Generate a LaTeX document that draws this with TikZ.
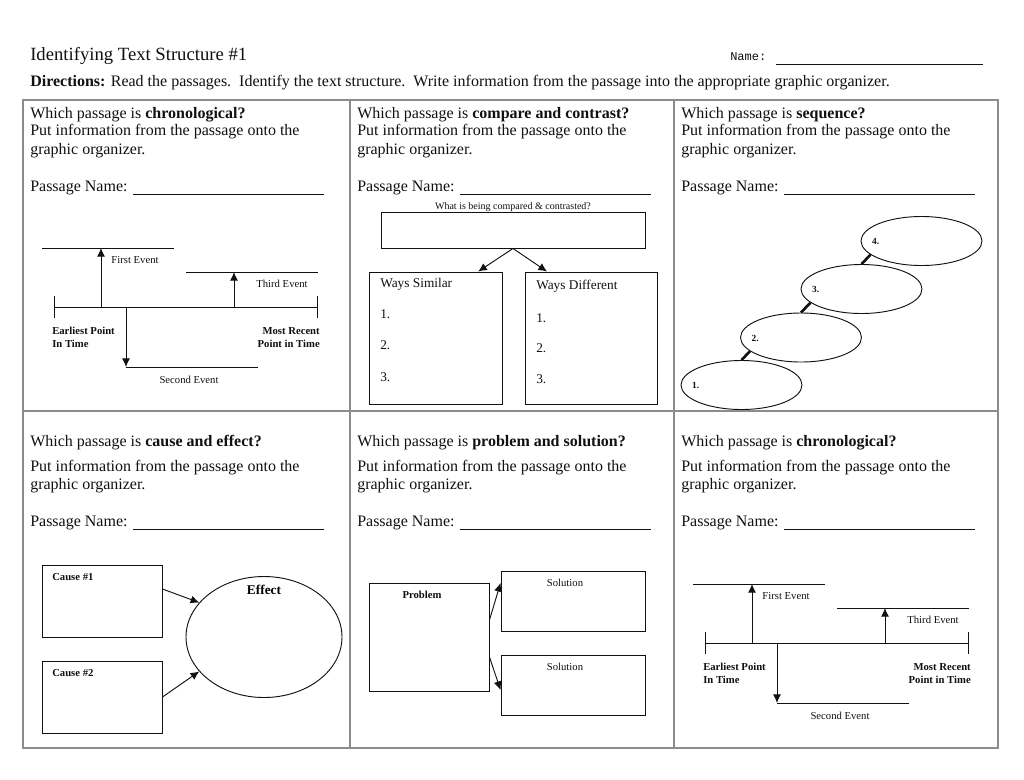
\documentclass[tikz,border=0pt]{standalone}
\usepackage{fontspec}
\setmainfont{Liberation Serif}
\setmonofont{Liberation Mono}
\usetikzlibrary{arrows.meta,positioning,shapes.geometric}
\definecolor{ink}{HTML}{111111}
\definecolor{frame}{HTML}{8C8C8C}
\tikzset{
  cell/.style={draw=frame, line width=0.8pt},
  prompt/.style={
    anchor=west, inner sep=0pt, align=left, yshift=-2pt,
    font=\fontsize{12}{13.9}\selectfont, text=ink
  },
  tiny/.style={inner sep=0pt, font=\fontsize{8}{9.75}\selectfont, text=ink},
  tinyb/.style={inner sep=0pt, font=\fontsize{8}{9.75}\selectfont\bfseries, text=ink},
  listtext/.style={anchor=west, inner sep=0pt, font=\fontsize{10}{12}\selectfont, text=ink},
  orgbox/.style={draw=ink, rectangle, line width=0.7pt, inner sep=0pt},
  oval/.style={draw=ink, ellipse, line width=0.7pt, inner sep=0pt},
  arrow/.style={-{Latex[length=6.5pt,width=6pt]}, draw=ink, line width=0.7pt},
  evline/.style={draw=ink, line width=0.7pt},
  link/.style={draw=ink, line width=2pt}
}
\newcommand{\blank}[1]{\rule[-2.5pt]{#1}{0.5pt}}
% one time line, drawn at the place of the first panel
\newcommand{\timeline}{%
  \coordinate (start) at (54,307);
  \coordinate (end) at (317,307);
  \coordinate (first) at (101,248);
  \coordinate (second) at (126,367);
  \coordinate (third) at (234,272);
  \draw[evline] (start) -- (end);
  \draw[evline] ([yshift=8pt]start) -- ([yshift=-8pt]start);
  \draw[evline] ([yshift=8pt]end) -- ([yshift=-8pt]end);
  \draw[evline] (42,248) -- (174,248);
  \draw[evline] (186,272) -- (318,272);
  \draw[evline] (126,367) -- (258,367);
  \draw[arrow] (first |- start) -- (first);
  \draw[arrow] (second |- start) -- (second);
  \draw[arrow] (third |- start) -- (third);
  \node[tiny] (first-label) at (135,260) {First Event};
  \node[tiny] (third-label) at (282,284) {Third Event};
  \node[tiny] (second-label) at (189,380) {Second Event};
  \node[tinyb, anchor=west, align=left] (earliest) at (52,337.5) {Earliest Point\\In Time};
  \node[tinyb, anchor=east, align=right] (recent) at (320,337.5) {Most Recent\\Point in Time};
}

\begin{document}
\begin{tikzpicture}[x=0.75pt, y=-0.75pt]
  \fill[white] (0,0) rectangle (1024,779);
  \useasboundingbox (0,0) rectangle (1024,779);

  % header
  \node[prompt, font=\fontsize{14}{16}\selectfont] (title) at (30,53) {Identifying Text Structure \#1};
  \node[prompt, font=\fontsize{9}{11}\selectfont\ttfamily] (name) at (730,56) {Name:\hspace{7.5pt}\blank{155pt}};
  \node[prompt] (directions) at (30,80) {\textbf{Directions:} Read the passages.\ \ Identify the text structure.\ \ Write information from the passage into the appropriate graphic organizer.};

  % table
  \draw[cell] (23,100) rectangle (998,748);
  \draw[cell] (350,100) -- (350,748);
  \draw[cell] (674,100) -- (674,748);
  \draw[cell] (23,411) -- (998,411);

  \foreach \px/\py/\kind in {30/112/chronological?, 357/112/compare and contrast?, 681/112/sequence?,
                             30/440/cause and effect?, 357/440/problem and solution?, 681/440/chronological?}
    \node[prompt] (q-\px-\py) at (\px,\py) {Which passage is \textbf{\kind}};
  \foreach \px in {30,357,681}{
    \node[prompt] (put-\px-a) at (\px,138.5) {Put information from the passage onto the\\graphic organizer.};
    \node[prompt] (pname-\px-a) at (\px,185) {Passage Name:\hspace{4pt}\blank{143pt}};
    \node[prompt] (put-\px-b) at (\px,474) {Put information from the passage onto the\\graphic organizer.};
    \node[prompt] (pname-\px-b) at (\px,520) {Passage Name:\hspace{4pt}\blank{143pt}};
  }

  % chronological
  \begin{scope}[name prefix=tla-]
    \timeline
  \end{scope}
  \begin{scope}[shift={(651,336)}, name prefix=tlb-]
    \timeline
  \end{scope}

  % compare and contrast
  \node[orgbox, minimum width=198pt, minimum height=27pt] (topic) at (513,230) {};
  \node[tiny, anchor=base, font=\fontsize{7.5}{9}\selectfont] (topic-label) at ([yshift=1.5pt]topic.north) {What is being compared \& contrasted?};
  \node[orgbox, minimum width=99.75pt, minimum height=99pt] (similar) at (435.5,338) {};
  \node[orgbox, minimum width=99pt, minimum height=99pt] (different) at (591,338) {};
  \draw[arrow] (topic.south) -- ([xshift=32pt]similar.north);
  \draw[arrow] (topic.south) -- ([xshift=-33pt]different.north);
  \node[listtext] (sim-head) at (380,284) {Ways Similar};
  \node[listtext] (sim-1) at (380,314) {1.};
  \node[listtext] (sim-2) at (380,345) {2.};
  \node[listtext] (sim-3) at (380,377) {3.};
  \node[listtext] (dif-head) at (536,286) {Ways Different};
  \node[listtext] (dif-1) at (536,318) {1.};
  \node[listtext] (dif-2) at (536,348) {2.};
  \node[listtext] (dif-3) at (536,379) {3.};

  % sequence
  \node[oval, minimum width=90.75pt, minimum height=36.75pt] (step1) at (741.5,385) {};
  \node[oval, minimum width=90.75pt, minimum height=36.75pt] (step2) at (801,337.5) {};
  \node[oval, minimum width=90.75pt, minimum height=36.75pt] (step3) at (861.5,289) {};
  \node[oval, minimum width=90.75pt, minimum height=36.75pt] (step4) at (921.5,241) {};
  \node[tinyb, anchor=west, font=\fontsize{7}{8}\selectfont\bfseries] (num1) at ([xshift=8.5pt]step1.west) {1.};
  \node[tinyb, anchor=west, font=\fontsize{7}{8}\selectfont\bfseries] (num2) at ([xshift=8.5pt,yshift=-0.5pt]step2.west) {2.};
  \node[tinyb, anchor=west, font=\fontsize{7}{8}\selectfont\bfseries] (num3) at ([xshift=8.5pt]step3.west) {3.};
  \node[tinyb, anchor=west, font=\fontsize{7}{8}\selectfont\bfseries] (num4) at ([xshift=8.5pt]step4.west) {4.};
  \draw[link] (step4.195) -- (step3.north);
  \draw[link] (step3.195) -- (step2.north);
  \draw[link] (step2.195) -- (step1.north);

  % cause and effect
  \node[orgbox, minimum width=90pt, minimum height=54pt] (cause1) at (102,601) {};
  \node[orgbox, minimum width=90pt, minimum height=54pt] (cause2) at (102,697) {};
  \node[oval, minimum width=117pt, minimum height=90.75pt] (effect) at (264,637) {};
  \node[tinyb, anchor=west] (cause1-label) at (52,577) {Cause \#1};
  \node[tinyb, anchor=west] (cause2-label) at (52,673) {Cause \#2};
  \node[inner sep=0pt, font=\fontsize{10}{12}\selectfont\bfseries] (effect-label) at (264,590) {Effect};
  \draw[arrow] ([yshift=9pt]cause1.east) -- (effect.152);
  \draw[arrow] (cause2.east) -- (effect.208);

  % problem and solution
  \node[orgbox, minimum width=90pt, minimum height=81pt] (problem) at (429,637) {};
  \node[orgbox, minimum width=108pt, minimum height=45pt] (solution1) at (573,601) {};
  \node[orgbox, minimum width=108pt, minimum height=45pt] (solution2) at (573,685) {};
  \node[tinyb] (problem-label) at (422,595) {Problem};
  \node[tiny] (solution1-label) at (565,583) {Solution};
  \node[tiny] (solution2-label) at (565,667) {Solution};
  \draw[arrow] ([yshift=12.75pt]problem.east) -- ([yshift=13.5pt]solution1.west);
  \draw[arrow] ([yshift=-15pt]problem.east) -- ([yshift=-3.75pt]solution2.west);
\end{tikzpicture}
\end{document}
